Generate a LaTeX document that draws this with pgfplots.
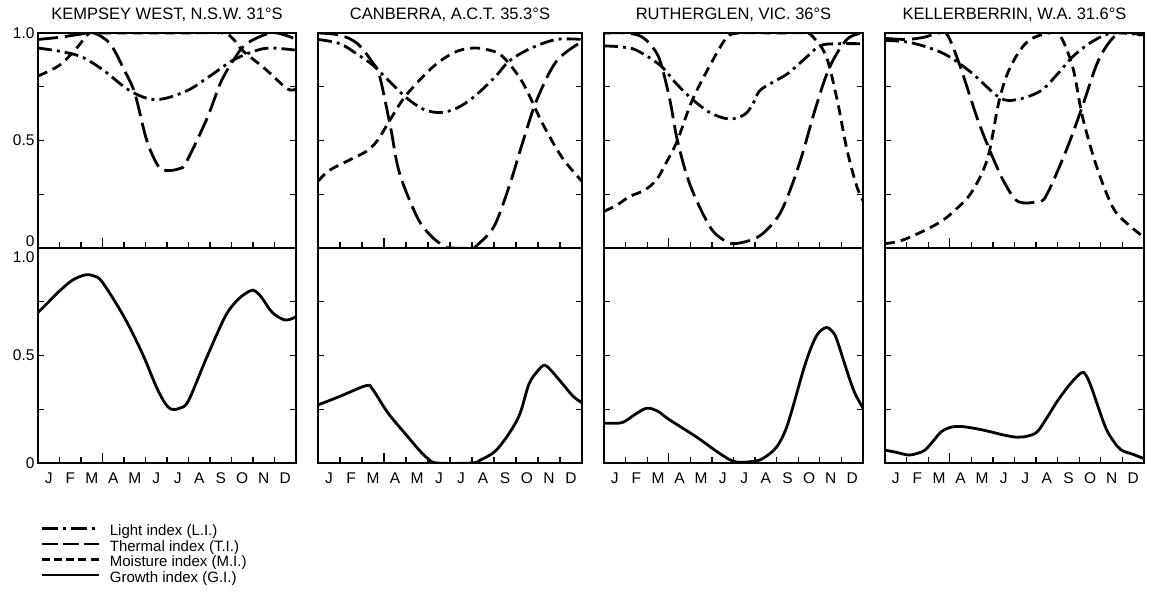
\documentclass[border=0pt]{standalone}
\usepackage{fontspec}
\setmainfont{Liberation Sans}
\usepackage{pgfplots}
\pgfplotsset{compat=1.18}
\pgfplotsset{
  panel/.style={
    scale only axis, height=215pt,
    xmin=0, xmax=12, ymin=0, ymax=1,
    axis line style={line width=1.5pt},
    tick style={line width=1.2pt, black},
    major tick length=6pt,
    tick align=inside,
    xtick={0,...,12}, xticklabels={},
    x tick label as interval,
    extra x ticks={3}, extra x tick labels={},
    extra x tick style={major tick length=10pt},
    ytick={0.25,0.5,0.75}, yticklabels={},
    xtick pos=left, ytick pos=both,
    ticklabel style={font=\fontsize{15.5}{17}\selectfont},
    xticklabel style={anchor=base, yshift=-21pt},
    title style={font=\fontsize{16.5}{18}\selectfont, at={(0.5,1)}, anchor=base, yshift=7pt},
    every axis plot/.append style={line width=2.8pt, black, smooth, tension=0.55},
  },
  months/.style={xticklabels={J,F,M,A,M,J,J,A,S,O,N,D}},
  li/.style={dash pattern=on 14pt off 5pt on 3pt off 5pt},
  ti/.style={dash pattern=on 20pt off 7pt},
  mi/.style={dash pattern=on 10pt off 6pt},
  gi/.style={solid},
}
\begin{document}
\begin{tikzpicture}[x=1pt,y=1pt]
\path[use as bounding box] (0,0) rectangle (1151,596);

% ---------- Column 1: Kempsey West ----------
\begin{axis}[panel, width=258pt, at={(38pt,348pt)}, anchor=south west,
  title={KEMPSEY WEST, N.S.W. 31°S},
  yticklabels={,0.5,}, extra y ticks={0.033,1}, extra y tick labels={0,1.0},
  extra y tick style={major tick length=0pt}]
\addplot[li] coordinates {(0,0.93)(1,0.915)(2,0.89)(3,0.83)(4.3,0.73)(5.5,0.69)(6.9,0.73)(8,0.80)(9.1,0.875)(10.2,0.92)(10.9,0.93)(12,0.92)};
\addplot[ti] coordinates {(0,0.97)(1,0.98)(2,0.995)(2.6,1.0)(3.35,0.95)(4.0,0.83)(4.5,0.72)(5.06,0.50)(5.6,0.38)(6.0,0.36)(6.6,0.37)(6.9,0.40)(7.85,0.60)(8.5,0.77)(9.1,0.875)(9.7,0.95)(10.8,1.0)(11.5,0.99)(12,0.97)};
\addplot[mi] coordinates {(0,0.80)(1,0.85)(1.8,0.93)(2.4,1.0)(3,1.0)(5,1.0)(7,1.0)(8.6,1.0)(9.1,0.97)(9.5,0.92)(10.6,0.83)(11.6,0.74)(12,0.74)};
\end{axis}
\begin{axis}[panel, months, width=258pt, at={(38pt,133pt)}, anchor=south west,
  yticklabels={,0.5,}, extra y ticks={0,0.958}, extra y tick labels={0,1.0},
  extra y tick style={major tick length=0pt},
  legend style={at={(0.008,-0.29)}, anchor=north west, draw=none, fill=none, inner sep=0pt,
    font=\fontsize{15}{17}\selectfont, row sep=2.5pt, column sep=10pt,
    nodes={inner sep=0pt, text height=10pt, text depth=3pt, anchor=west}},
  legend cell align=left,
  legend image code/.code={\draw[#1, line width=2.6pt] (0pt,3.5pt) -- (57pt,3.5pt);}]
\addlegendimage{black, dash pattern=on 16pt off 5pt on 3pt off 5pt}
\addlegendentry{Light index (L.I.)}
\addlegendimage{black, dash pattern=on 16pt off 5pt}
\addlegendentry{Thermal index (T.I.)}
\addlegendimage{black, dash pattern=on 8pt off 4.3pt}
\addlegendentry{Moisture index (M.I.)}
\addplot[gi] coordinates {(0,0.70)(0.5,0.75)(1.0,0.80)(1.6,0.85)(2.2,0.875)(2.6,0.87)(3.0,0.84)(4.0,0.68)(4.85,0.51)(5.5,0.355)(5.9,0.28)(6.2,0.25)(6.6,0.255)(7.0,0.29)(7.8,0.48)(8.7,0.68)(9.3,0.76)(9.85,0.80)(10.1,0.80)(10.4,0.77)(10.9,0.70)(11.5,0.665)(12,0.68)};
\addlegendentry{Growth index (G.I.)}
\end{axis}

% ---------- Column 2: Canberra ----------
\begin{axis}[panel, width=264pt, at={(318pt,348pt)}, anchor=south west,
  title={CANBERRA, A.C.T. 35.3°S}]
\addplot[li] coordinates {(0,0.97)(1,0.95)(1.8,0.90)(2.5,0.85)(3.2,0.78)(4.0,0.70)(4.8,0.645)(5.55,0.63)(6.3,0.65)(7.05,0.70)(8,0.79)(8.7,0.87)(9.7,0.93)(10.85,0.97)(12,0.97)};
\addplot[ti] coordinates {(0,1.0)(1,0.99)(1.8,0.95)(2.5,0.86)(2.8,0.80)(3.3,0.56)(3.7,0.35)(4.5,0.145)(5.1,0.06)(5.7,0.01)(6,0)(7,0)(7.2,0.01)(8.0,0.10)(8.7,0.29)(9.3,0.49)(9.95,0.69)(10.85,0.87)(12,0.96)};
\addplot[mi] coordinates {(0,0.31)(0.5,0.36)(1.45,0.41)(2.2,0.45)(2.7,0.50)(3.3,0.60)(4.0,0.71)(5.2,0.84)(6.2,0.91)(7.05,0.93)(7.8,0.92)(8.4,0.89)(9.3,0.77)(10.2,0.58)(11.1,0.42)(12,0.31)};
\end{axis}
\begin{axis}[panel, months, width=264pt, at={(318pt,133pt)}, anchor=south west]
\addplot[gi] coordinates {(0,0.27)(1,0.31)(2.2,0.36)(2.5,0.34)(3.2,0.23)(4.1,0.12)(4.6,0.06)(5.0,0.02)(5.4,0.0)(7.0,0.0)(7.4,0.015)(8.0,0.05)(8.5,0.11)(9.0,0.19)(9.25,0.25)(9.6,0.37)(10.0,0.43)(10.3,0.455)(10.6,0.43)(11.1,0.37)(11.6,0.31)(12,0.28)};
\end{axis}

% ---------- Column 3: Rutherglen ----------
\begin{axis}[panel, width=259pt, at={(604pt,348pt)}, anchor=south west,
  title={RUTHERGLEN, VIC. 36°S}]
\addplot[li] coordinates {(0,0.94)(0.8,0.935)(1.5,0.92)(2.6,0.85)(3.3,0.77)(4.0,0.70)(4.9,0.63)(5.8,0.60)(6.5,0.62)(6.9,0.67)(7.2,0.73)(7.8,0.77)(8.5,0.81)(9.3,0.88)(10.0,0.94)(10.8,0.95)(12,0.95)};
\addplot[ti] coordinates {(0,1.0)(1,1.0)(1.7,0.985)(2.2,0.94)(2.6,0.87)(3.05,0.69)(3.4,0.50)(4.0,0.29)(4.9,0.10)(5.5,0.04)(6.0,0.02)(6.9,0.04)(7.5,0.08)(8.15,0.16)(8.7,0.29)(9.2,0.44)(9.8,0.65)(10.45,0.84)(11.25,0.97)(12,1.0)};
\addplot[mi] coordinates {(0,0.17)(0.6,0.20)(1.2,0.24)(1.9,0.27)(2.45,0.32)(2.9,0.40)(3.4,0.50)(4.1,0.69)(5.05,0.875)(5.7,0.98)(6.3,1.0)(8,1.0)(9.3,1.0)(9.7,0.98)(10.3,0.89)(10.8,0.69)(11.25,0.46)(11.7,0.29)(12,0.22)};
\end{axis}
\begin{axis}[panel, months, width=259pt, at={(604pt,133pt)}, anchor=south west]
\addplot[gi] coordinates {(0,0.185)(0.5,0.185)(0.9,0.19)(1.5,0.23)(2.0,0.255)(2.5,0.24)(3.05,0.20)(4.3,0.12)(5.35,0.045)(6.1,0.005)(7.05,0.01)(7.5,0.03)(8.0,0.075)(8.4,0.15)(8.75,0.26)(9.2,0.42)(9.55,0.525)(9.9,0.60)(10.3,0.63)(10.6,0.61)(10.8,0.57)(11.25,0.43)(11.6,0.33)(12,0.255)};
\end{axis}

% ---------- Column 4: Kellerberrin ----------
\begin{axis}[panel, width=259pt, at={(885pt,348pt)}, anchor=south west,
  title={KELLERBERRIN, W.A. 31.6°S}]
\addplot[li] coordinates {(0,0.965)(1.2,0.955)(2.7,0.905)(3.95,0.82)(5.3,0.70)(6.1,0.69)(7.2,0.73)(8.0,0.81)(8.7,0.89)(9.6,0.96)(10.55,1.0)(12,0.99)};
\addplot[ti] coordinates {(0,0.975)(1,0.97)(1.8,0.98)(2.5,1.0)(2.9,0.99)(3.5,0.84)(4.25,0.61)(4.85,0.455)(5.45,0.32)(6.0,0.23)(6.4,0.21)(7.0,0.215)(7.45,0.24)(8.4,0.455)(9.15,0.66)(9.9,0.875)(10.7,0.99)(11.5,1.0)(12,0.98)};
\addplot[mi] coordinates {(0,0.02)(0.6,0.03)(1.15,0.05)(2.0,0.09)(2.7,0.13)(3.4,0.19)(3.95,0.25)(4.5,0.35)(4.85,0.455)(5.3,0.69)(5.8,0.84)(6.6,0.96)(7.6,1.0)(8.1,0.99)(8.7,0.84)(9.15,0.61)(9.8,0.38)(10.55,0.19)(11.2,0.115)(12,0.05)};
\end{axis}
\begin{axis}[panel, months, width=259pt, at={(885pt,133pt)}, anchor=south west]
\addplot[gi] coordinates {(0,0.06)(0.5,0.05)(1.1,0.037)(1.5,0.045)(1.85,0.06)(2.3,0.11)(2.6,0.145)(3.0,0.165)(3.5,0.17)(4.2,0.16)(4.9,0.145)(5.5,0.13)(6.1,0.12)(6.6,0.125)(7.05,0.145)(7.5,0.21)(8.0,0.29)(8.6,0.37)(9.1,0.42)(9.3,0.41)(9.55,0.355)(10.2,0.17)(10.6,0.10)(10.95,0.06)(11.5,0.04)(12,0.02)};
\end{axis}
\end{tikzpicture}
\end{document}
